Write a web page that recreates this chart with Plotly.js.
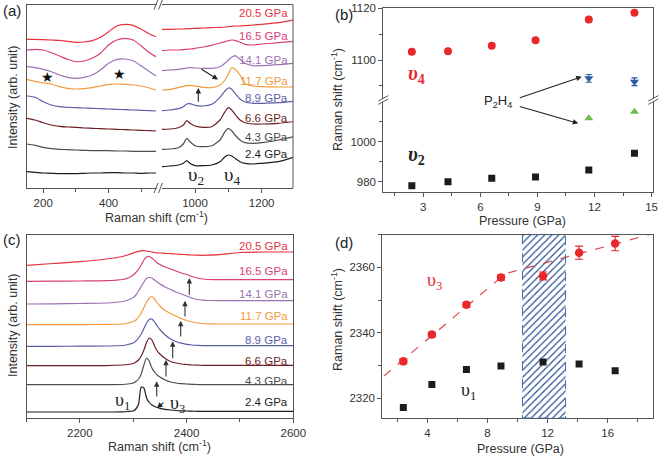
<!DOCTYPE html>
<html><head><meta charset="utf-8">
<script src="https://cdn.plot.ly/plotly-3.0.1.min.js"></script>
<style>html,body{margin:0;padding:0;background:#fff}</style>
</head><body><div id="chart" style="width:661px;height:457px"></div>
<script>
// ---------------- DATA ----------------
const pressureLabels = ['2.4 GPa','4.3 GPa','6.6 GPa','8.9 GPa','11.7 GPa','14.1 GPa','16.5 GPa','20.5 GPa'];

// Panel (a), low-frequency part (Raman shift, cm-1) and offset intensities (arb.)
const aLowShift = [150,175,200,225,250,275,300,325,350,375,400,425,450,475,500,525,545];
const aLow24 = [16.3,15.7,15,14.7,14.3,14.3,14.3,14.7,15,15,15.3,15.3,15,15,14.7,15,15];
const aLow43 = [44,42.7,40.7,39.3,38.7,38.3,38,37.7,37.3,37.3,37.3,37,37,36.7,36.7,36.7,36.7];
const aLow66 = [69.7,68,65.3,63,61.7,61,60.7,60,59.7,59.3,59,58.7,58.3,58,57.7,57.3,57];
const aLow89 = [92,90.7,86.3,83,81.3,80.7,80.3,80,79.7,79.3,79,78.7,78.3,78,77.7,77.3,77];
const aLow117 = [108.7,106.7,105,104,101.3,99.7,99,99.3,100.3,102,103.7,104,103.7,103,102,100,98];
const aLow141 = [121.3,120.3,118.7,116.3,113,110.7,109.7,110.7,113,118,124.7,128.7,129,127.3,122,116.3,112];
const aLow165 = [138,138.7,138,135.3,132,128.7,126.3,127,129.7,134.7,143,148,149.7,148,142,135.3,131.3];
const aLow205 = [148.7,148.7,148.3,148,147.7,146.7,145.7,146,147.3,150.7,156.3,162,163.7,162.7,158.7,154,151.3];

// Panel (a), high-frequency part
const aHighShift = [900,925,950,965,975,985,1000,1025,1050,1075,1090,1100,1110,1120,1135,1150,1175,1200,1250,1295];
const aHigh24 = [21.3,22,23,24.7,27.3,24.7,22.3,22.3,23,26.3,31.3,33,32,29.7,26.3,24.7,24,24.7,26.3,30.7];
const aHigh43 = [38.7,39,40.3,44,49.7,46.3,42.3,41.3,42.3,48,56.3,59.7,57.3,53,48,45.3,44.7,45.3,48,51.3];
const aHigh66 = [58.7,59,60.3,63,67.3,64.7,62,60.7,61.3,68,76.3,80.3,78,73.7,68,65.3,64,64,64.7,66.3];
const aHigh89 = [77.3,78,79.3,81.3,84,84.3,82.7,82,83.7,90.7,97,100,98.7,94.7,89,86,84.7,84.7,85.3,86.7];
const aHigh117 = [98,98.7,100.3,101.7,102.3,102.7,102,100.7,100.3,103,108,114,120.3,118.7,113,104.7,102,101.3,101,101];
const aHigh141 = [117.3,118,118.7,119.3,120,120.3,120,119.7,119.7,121.3,124.7,128,130.7,132.3,128.7,124.7,122.3,122.3,123.3,124.7];
const aHigh165 = [137.3,138,138,138.3,138.7,139,139.7,141,142.7,145,146.3,147.3,148,147.7,145.7,143.7,143,144,145.3,146.7];
const aHigh205 = [158.7,158.7,159,159,159.3,159.3,159.7,160,160.3,160.7,161,161.3,161.7,162,162,162.3,163,163.7,165.3,168];

// Panel (c)
const cShift = [2100,2150,2200,2250,2280,2290,2300,2305,2310,2315,2320,2325,2330,2335,2340,2345,2350,2360,2370,2380,2390,2400,2410,2420,2430,2440,2460,2500,2550,2600];
const c24 = [6,6,6,6,6.2,6.5,7,9,14,31,30,20,15.5,13,11.5,10.5,9.7,8.7,8,7.5,7.2,7,6.8,6.7,6.7,6.7,6.7,6.7,6.7,6.7];
const c43 = [33.3,33.3,33.3,33.3,33.5,34,35,36.5,39,44,53,60,57,50,46,43,41,38,36,35,34.3,34,33.7,33.5,33.3,33.3,33.3,33.3,33.3,33.3];
const c66 = [52.3,52.3,52.3,52.4,53,53.5,54.5,56,58,62,68,75.5,80,78,72,67,64,59.5,56.5,55,54,53.5,53,52.8,52.7,52.7,52.7,52.7,52.7,52.7];
const c89 = [71.7,71.7,71.8,72,72.5,73.5,75,77,80,84,89.5,95,98.5,99,96,92,88.5,83,79,76.5,74.8,73.7,73,72.6,72.4,72.3,72.3,72.3,72.3,72.3];
const c117 = [93.3,93.3,93.4,93.6,94,95,96.5,98,101,105,110.5,116,120,121.5,119,115,112,107.5,104.5,102,99.5,97.5,96,95,94.5,94.2,94,94,94,94];
const c141 = [114,114.2,114.5,115,116.5,118,120.5,123,127,131.5,136,139.5,140.5,140,138,136,134,131,128.5,126,124,122,120,118.5,117.8,117.5,117.3,117.3,117.3,117.3];
const c165 = [136.7,136.8,137,137.3,138.5,140,143,145.5,149,153,158,161,161.5,160,157.5,155,153.5,151,149,147,145,143.5,141.5,140,139,138.5,138.3,138.3,138.3,138.3];
const c205 = [152.7,154.5,156.3,159,161.5,163,165,166,166.7,167.2,167.3,167,166.5,166,165.5,165.2,165,164.7,164.3,164,163.7,163.3,163,162.8,162.7,162.8,163.3,165.5,166,166];

// Panel (b)
const bPressure = [2.4,4.3,6.6,8.9,11.7,14.1];
const bNu4 = [1103.2,1103.4,1105.5,1107.7,1115.7,1118.3];
const bNu2 = [978,980,981.7,982.3,985.8,994.2];
const bP2H4Pressure = [11.7,14.1];
const bP2H4High = [1092.9,1091.6];
const bP2H4HighErr = [1.5,1.5];
const bP2H4Low = [1011.7,1015];

// Panel (d)
const dPressure = [2.4,4.3,6.6,8.9,11.7,14.1,16.5];
const dNu3 = [2331.3,2339.5,2348.6,2356.9,2357.4,2364.5,2367.3];
const dNu3Err = [0.7,0.7,0.7,0.8,1.2,2,2.2];
const dNu1 = [2317.2,2324.2,2328.8,2329.9,2331.1,2330.5,2328.4];
const dFitP = [1.1,9.2,19];
const dFitShift = [2326.8,2358.1,2370.3];
const transitionRange = [10.33,13.2];

// ---------------- STYLE / LAYOUT ----------------
const W = 661, H = 457;
const PX = X => X / W;
const PY = Y => 1 - Y / H;
const colors = ['#1c1c1c','#4d4d4d','#6e1f26','#5b5ea8','#f29a3b','#9d72b3','#d9407a','#e8323c'];
const aLow = [aLow24,aLow43,aLow66,aLow89,aLow117,aLow141,aLow165,aLow205];
const aHigh = [aHigh24,aHigh43,aHigh66,aHigh89,aHigh117,aHigh141,aHigh165,aHigh205];
const cSer = [c24,c43,c66,c89,c117,c141,c165,c205];

const traces = [];
for (let i = 0; i < 8; i++) {
  const ln = {color: colors[i], width: 1.2, shape: 'spline', smoothing: 0.6};
  traces.push({x: aLowShift, y: aLow[i], xaxis: 'x', yaxis: 'y', mode: 'lines', line: ln});
  traces.push({x: aHighShift, y: aHigh[i], xaxis: 'x2', yaxis: 'y', mode: 'lines', line: ln});
  traces.push({x: cShift, y: cSer[i], xaxis: 'x5', yaxis: 'y5', mode: 'lines', line: ln});
}
const RED = '#e8282b', BLK = '#1c1c1c';
// (b)
traces.push({x: bPressure, y: bNu4, xaxis: 'x4', yaxis: 'y4', mode: 'markers',
  marker: {symbol: 'circle', size: 8, color: RED}});
traces.push({x: bP2H4Pressure, y: bP2H4High, xaxis: 'x4', yaxis: 'y4', mode: 'markers',
  error_y: {type: 'data', array: bP2H4HighErr, color: '#2c5aa5', thickness: 1.2, width: 3},
  marker: {symbol: 'triangle-down', size: 8, color: '#2c5aa5'}});
traces.push({x: bPressure, y: bNu2, xaxis: 'x3', yaxis: 'y3', mode: 'markers',
  marker: {symbol: 'square', size: 7, color: BLK}});
traces.push({x: bP2H4Pressure, y: bP2H4Low, xaxis: 'x3', yaxis: 'y3', mode: 'markers',
  marker: {symbol: 'triangle-up', size: 8, color: '#6cbf4a'}});
// (d)
traces.push({type: 'bar', x: [(transitionRange[0] + transitionRange[1]) / 2], y: [56], base: [2314],
  width: [transitionRange[1] - transitionRange[0]], xaxis: 'x6', yaxis: 'y6',
  marker: {color: 'white', line: {width: 0},
    pattern: {shape: '/', fgcolor: '#2f5597', bgcolor: 'white', size: 5, solidity: 0.25}}});
traces.push({x: dFitP, y: dFitShift, xaxis: 'x6', yaxis: 'y6', mode: 'lines',
  line: {color: '#e0484a', width: 1.2, dash: 'dash'}});
traces.push({x: dPressure, y: dNu3, xaxis: 'x6', yaxis: 'y6', mode: 'markers',
  error_y: {type: 'data', array: dNu3Err, color: RED, thickness: 1.2, width: 4},
  marker: {symbol: 'circle', size: 8.5, color: RED}});
traces.push({x: dPressure, y: dNu1, xaxis: 'x6', yaxis: 'y6', mode: 'markers',
  marker: {symbol: 'square', size: 7, color: BLK}});

const AX = {showline: true, linecolor: '#555', linewidth: 1, ticks: 'outside', ticklen: 4,
  tickcolor: '#555', tickwidth: 1, zeroline: false, showgrid: false,
  tickfont: {size: 11.5, color: '#333'}};
const MINOR = d => ({dtick: d, ticks: 'outside', ticklen: 3, tickcolor: '#555'});

const layout = {
  width: W, height: H, margin: {l: 0, r: 0, t: 0, b: 0}, showlegend: false,
  paper_bgcolor: 'white', plot_bgcolor: 'rgba(0,0,0,0)', hovermode: false, barmode: 'overlay',
  font: {family: 'Liberation Sans, Arial, sans-serif', size: 12, color: '#333'},
  xaxis: Object.assign({}, AX, {domain: [PX(26.5), PX(157)], range: [149, 548], anchor: 'y', mirror: true,
    tick0: 0, dtick: 200, minor: MINOR(100)}),
  xaxis2: Object.assign({}, AX, {domain: [PX(162), PX(293)], range: [901, 1294], anchor: 'y', mirror: true,
    tick0: 0, dtick: 200, minor: MINOR(100)}),
  yaxis: Object.assign({}, AX, {domain: [PY(188), PY(4.5)], range: [0, 183.5], anchor: 'x',
    ticks: '', showticklabels: false}),
  xaxis3: Object.assign({}, AX, {domain: [PX(383.3), PX(653.3)], range: [0.9, 15.09], anchor: 'y3',
    tick0: 0, dtick: 3, minor: MINOR(1.5)}),
  xaxis4: Object.assign({}, AX, {domain: [PX(383.3), PX(653.3)], range: [0.9, 15.09], anchor: 'y4',
    side: 'top', ticks: '', showticklabels: false}),
  yaxis3: Object.assign({}, AX, {domain: [PY(191.7), PY(101.5)], range: [975, 1020.1], anchor: 'x3',
    mirror: true, tickmode: 'array', tickvals: [980, 1000],
    minor: {tickvals: [990, 1010], ticks: 'outside', ticklen: 3, tickcolor: '#555'}}),
  yaxis4: Object.assign({}, AX, {domain: [PY(98.5), PY(8.3)], range: [1085.1, 1120.05], anchor: 'x4',
    mirror: true, tickmode: 'array', tickvals: [1100, 1120],
    minor: {tickvals: [1090, 1110], ticks: 'outside', ticklen: 3, tickcolor: '#555'}}),
  xaxis5: Object.assign({}, AX, {domain: [PX(26.5), PX(293.3)], range: [2100, 2600], anchor: 'y5', mirror: true,
    tick0: 0, dtick: 200, minor: MINOR(100)}),
  yaxis5: Object.assign({}, AX, {domain: [PY(418), PY(234.7)], range: [0, 183.3], anchor: 'x5', mirror: true,
    ticks: '', showticklabels: false}),
  xaxis6: Object.assign({}, AX, {domain: [PX(382.3), PX(652.7)], range: [1, 19], anchor: 'y6', mirror: true,
    tick0: 0, dtick: 4, minor: MINOR(2)}),
  yaxis6: Object.assign({}, AX, {domain: [PY(418), PY(234.7)], range: [2314, 2370], anchor: 'x6', mirror: true,
    tick0: 0, dtick: 20, minor: MINOR(10)}),
  shapes: [],
  annotations: []
};

const line = (x0, y0, x1, y1, col) => layout.shapes.push({type: 'line', xref: 'paper', yref: 'paper',
  x0: PX(x0), y0: PY(y0), x1: PX(x1), y1: PY(y1), line: {color: col || '#555', width: 1}});
// panel (a) right frame and axis breaks
line(293, 188, 293, 4.5);
[[188], [4.5]].forEach(([Y]) => {
  line(154, Y + 5, 158, Y - 5); line(158.5, Y + 5, 162.5, Y - 5);
});
// panel (b) axis breaks
[383.3, 653.3].forEach(X => {
  line(X - 5, 101, X + 5, 95.6); line(X - 5, 104.4, X + 5, 99);
});
// panel (d) dashed border of the hatched region
layout.shapes.push({type: 'rect', xref: 'x6', yref: 'y6 domain', x0: transitionRange[0], x1: transitionRange[1],
  y0: 0, y1: 1, line: {color: '#4a6aa5', width: 1, dash: 'dash'}});

const ann = (X, Y, text, o) => layout.annotations.push(Object.assign({xref: 'paper', yref: 'paper',
  x: PX(X), y: PY(Y), text: text, showarrow: false, xanchor: 'center', yanchor: 'middle',
  font: {size: 12, color: '#333'}}, o || {}));
const arrow = (x0, y0, x1, y1, col) => layout.annotations.push({xref: 'paper', yref: 'paper',
  x: PX(x1), y: PY(y1), ax: x0 - x1, ay: y0 - y1, axref: 'pixel', ayref: 'pixel', text: '',
  showarrow: true, arrowhead: 2, arrowsize: 1, arrowwidth: 1.1, arrowcolor: col || '#222'});

// panel letters
ann(12, 11, '(a)', {font: {size: 15, color: '#222'}});
ann(344, 15, '(b)', {font: {size: 15, color: '#222'}});
ann(12, 240, '(c)', {font: {size: 15, color: '#222'}});
ann(344, 242, '(d)', {font: {size: 15, color: '#222'}});

// axis titles
const ramanTitle = 'Raman shift (cm<sup>-1</sup>)';
ann(156, 217, ramanTitle, {font: {size: 12.5, color: '#333'}});
ann(159, 446, ramanTitle, {font: {size: 12.5, color: '#333'}});
ann(522, 221, 'Pressure (GPa)', {font: {size: 12.5, color: '#333'}});
ann(520, 449, 'Pressure (GPa)', {font: {size: 12.5, color: '#333'}});
ann(13, 97, 'Intensity (arb. unit)', {textangle: -90, font: {size: 12.5, color: '#333'}});
ann(13, 325, 'Intensity (arb. unit)', {textangle: -90, font: {size: 12.5, color: '#333'}});
ann(337, 100, ramanTitle, {textangle: -90, font: {size: 12.5, color: '#333'}});
ann(337, 320, ramanTitle, {textangle: -90, font: {size: 12.5, color: '#333'}});

// pressure labels
const aLabelY = [154.3, 136.7, 118.3, 98.3, 81, 60, 36, 13.3];
const cLabelY = [402, 380.7, 360.7, 339.7, 316.3, 293.7, 271.3, 246.3];
for (let i = 0; i < 8; i++) {
  ann(290, aLabelY[i], pressureLabels[i], {xanchor: 'right', font: {size: 11.5, color: colors[i]}});
  ann(290, cLabelY[i], pressureLabels[i], {xanchor: 'right', font: {size: 11.5, color: colors[i]}});
}

// mode labels
const SERIF = 'Liberation Serif, DejaVu Serif, serif';
ann(196, 176, 'υ<sub>2</sub>', {font: {family: SERIF, size: 19, color: '#222'}});
ann(231.5, 176, 'υ<sub>4</sub>', {font: {family: SERIF, size: 19, color: '#222'}});
ann(122, 401, 'υ<sub>1</sub>', {font: {family: SERIF, size: 18, color: '#222'}});
ann(177, 404, 'υ<sub>3</sub>', {font: {family: SERIF, size: 18, color: '#222'}});
ann(416, 75, '<b><i>υ</i><sub>4</sub></b>', {font: {family: SERIF, size: 20, color: RED}});
ann(417, 155, '<b><i>υ</i><sub>2</sub></b>', {font: {family: SERIF, size: 20, color: '#222'}});
ann(498, 102, 'P<sub>2</sub>H<sub>4</sub>', {font: {size: 13, color: '#222'}});
ann(434, 281, 'υ<sub>3</sub>', {font: {family: SERIF, size: 18, color: RED}});
ann(468, 391, 'υ<sub>1</sub>', {font: {family: SERIF, size: 18, color: '#222'}});
// stars
ann(47.5, 77, '★', {font: {family: 'DejaVu Sans', size: 14, color: '#111'}});
ann(119, 74, '★', {font: {family: 'DejaVu Sans', size: 14, color: '#111'}});

// arrows
arrow(198.3, 103.3, 198.3, 88);
arrow(200, 68.3, 218, 79.5);
arrow(518.3, 98.3, 581.7, 76.7);
arrow(518.3, 106, 578.3, 123.3);
arrow(165, 401.3, 157, 408);
[[156.7, 398, 381.3], [166, 378, 359.7], [172.7, 359.7, 341.3], [180.7, 338, 320.7], [185, 318, 300.7], [189.3, 296.3, 278]]
  .forEach(([X, y0, y1]) => arrow(X, y0, X, y1, '#333'));

Plotly.newPlot('chart', traces, layout, {staticPlot: true, displayModeBar: false});
</script></body></html>
